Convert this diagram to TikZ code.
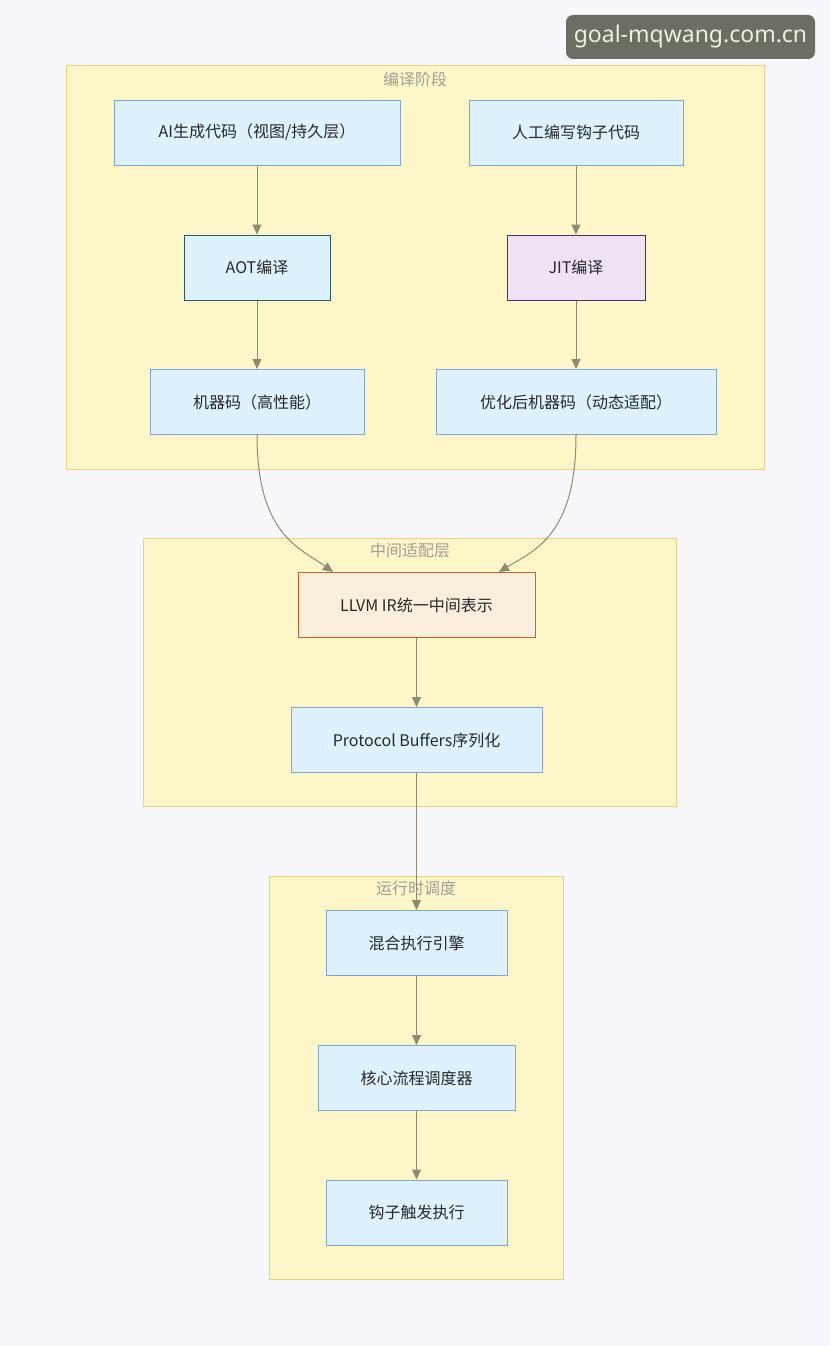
\documentclass[tikz,border=0pt]{standalone}
\usepackage{fontspec}
\setmainfont{Noto Sans CJK SC}
\newfontfamily\wmfont{Noto Sans}
\usetikzlibrary{arrows.meta}
\definecolor{bgc}{RGB}{248,247,252}
\definecolor{clfill}{RGB}{252,246,200}
\definecolor{cldraw}{RGB}{234,210,130}
\definecolor{clText}{RGB}{160,160,150}
\definecolor{nfill}{RGB}{221,242,252}
\definecolor{ndraw}{RGB}{128,166,214}
\definecolor{aotdraw}{RGB}{40,90,110}
\definecolor{jitfill}{RGB}{238,226,245}
\definecolor{jitdraw}{RGB}{80,45,110}
\definecolor{llfill}{RGB}{250,238,220}
\definecolor{lldraw}{RGB}{200,100,45}
\definecolor{edgec}{RGB}{140,140,115}
\definecolor{wmfill}{RGB}{107,110,98}
\definecolor{wmtext}{RGB}{232,242,225}
\definecolor{txt}{RGB}{40,40,40}
\tikzset{
  cluster/.style={draw=cldraw, fill=clfill, line width=1pt},
  cltitle/.style={text=clText, font=\fontsize{16}{19}\selectfont, inner sep=0pt},
  box/.style={draw=ndraw, fill=nfill, line width=1pt, text=txt, font=\fontsize{16}{19}\selectfont, inner sep=0pt, minimum height=65pt},
  conn/.style={draw=edgec, line width=1pt, -{Triangle[length=10pt,width=9pt]}},
}
\begin{document}
\begin{tikzpicture}[x=1pt,y=-1pt]
\useasboundingbox (0,0) rectangle (830,1346);
\fill[bgc] (0,0) rectangle (830,1346);
% watermark
\node[fill=wmfill, rounded corners=7pt, text=wmtext, font=\wmfont\fontsize{23}{27}\selectfont, minimum width=249pt, minimum height=44pt, inner sep=0pt] (wm) at (690.5,37) {goal-mqwang.com.cn};
% clusters
\draw[cluster] (66,66) rectangle (764,469);
\node[cltitle] (t1) at (415,79) {编译阶段};
\draw[cluster] (143,538) rectangle (676,806);
\node[cltitle] (t2) at (410,550) {中间适配层};
\draw[cluster] (269,876) rectangle (563,1279);
\node[cltitle] (t3) at (416,888) {运行时调度};
% nodes
\node[box, minimum width=286pt] (ai) at (257,132.5) {AI生成代码（视图/持久层）};
\node[box, minimum width=214pt] (hk) at (576,132.5) {人工编写钩子代码};
\node[box, minimum width=146pt, draw=aotdraw] (aot) at (257,267.5) {AOT编译};
\node[box, minimum width=138pt, fill=jitfill, draw=jitdraw] (jit) at (576,267.5) {JIT编译};
\node[box, minimum width=214pt] (mc) at (257,402) {机器码（高性能）};
\node[box, minimum width=280pt] (omc) at (576,402) {优化后机器码（动态适配）};
\node[box, minimum width=237pt, fill=llfill, draw=lldraw] (ll) at (416.5,605) {LLVM IR统一中间表示};
\node[box, minimum width=251pt] (pb) at (416.5,740) {Protocol Buffers序列化};
\node[box, minimum width=181pt] (mx) at (416.5,943) {混合执行引擎};
\node[box, minimum width=197pt] (hx) at (416.5,1078) {核心流程调度器};
\node[box, minimum width=181pt] (gz) at (416.5,1212.5) {钩子触发执行};
% connectors
\draw[conn] (ai) -- (aot);
\draw[conn] (hk) -- (jit);
\draw[conn] (aot) -- (mc);
\draw[conn] (jit) -- (omc);
\draw[conn] (mc.south) .. controls (257,535) and (300,548) .. (333,572);
\draw[conn] (omc.south) .. controls (576,535) and (535,550) .. (499,572);
\draw[conn] (ll) -- (pb);
\draw[conn] (pb) -- (mx);
\draw[conn] (mx) -- (hx);
\draw[conn] (hx) -- (gz);
\end{tikzpicture}
\end{document}
